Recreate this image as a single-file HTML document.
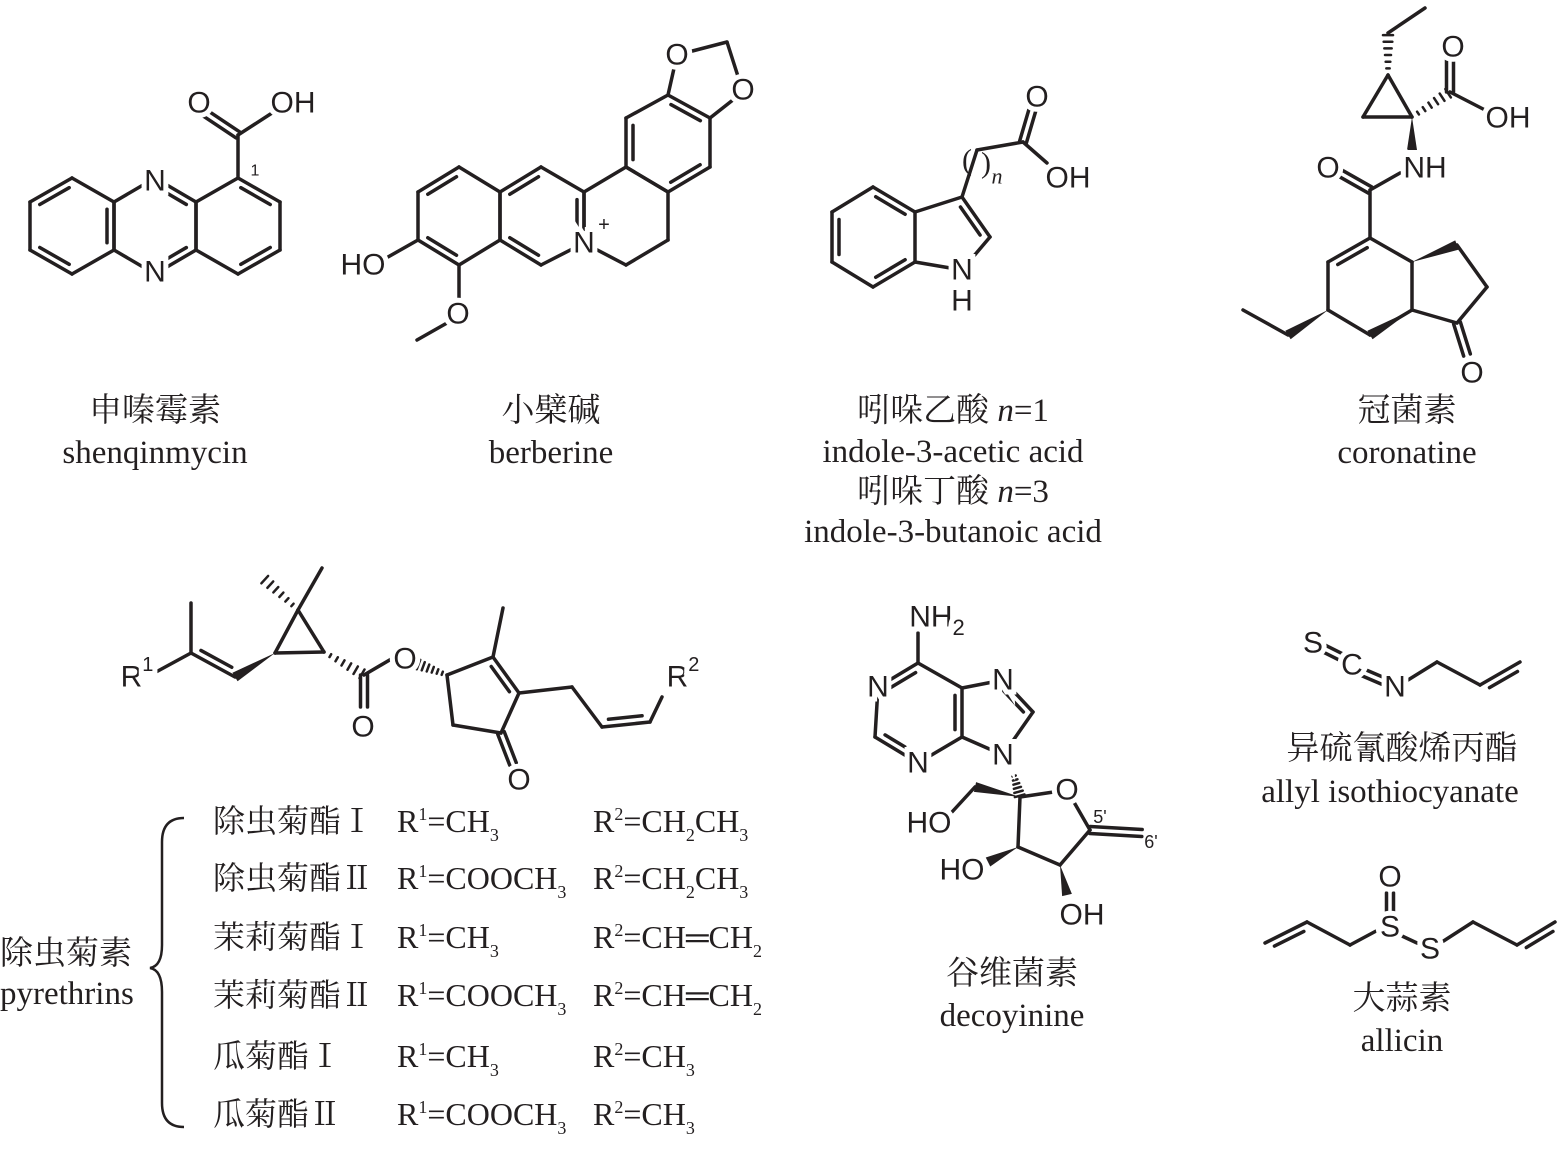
<!DOCTYPE html>
<html><head><meta charset="utf-8">
<style>
html,body{margin:0;padding:0;background:#fff;}
#w{position:relative;width:1560px;height:1149px;overflow:hidden;}
svg{position:absolute;left:0;top:0;}
.t{position:absolute;font-family:"Liberation Serif","Noto Serif CJK SC",serif;font-size:33px;color:#231f20;white-space:nowrap;line-height:1;}
.r{font-size:32px;}
.c{transform:translateX(-50%);text-align:center;}
.t sup{font-size:18px;vertical-align:12px;}
.t sub{font-size:18px;vertical-align:-9px;}
</style></head><body><div id="w">
<svg id="s" width="1560" height="1149" viewBox="0 0 1560 1149">
<g id="b" stroke="#231f20" stroke-width="3.5" stroke-linecap="round" fill="none"></g>
<g id="f" fill="#231f20" stroke="none"></g>
<g fill="#fff">
<circle cx="677" cy="55" r="12"/><circle cx="743" cy="90" r="12"/><circle cx="1067" cy="790" r="12"/>
<circle cx="405" cy="660" r="12"/><circle cx="1395" cy="687" r="12"/><circle cx="1352" cy="665" r="12"/>
<circle cx="1390" cy="927" r="11"/><circle cx="1430" cy="949" r="11"/><circle cx="584" cy="243" r="12"/>
</g>
<g font-family="Liberation Sans, sans-serif" font-size="30" fill="#231f20" text-anchor="middle" dominant-baseline="central" stroke="#fff" stroke-width="10" paint-order="stroke">
<text x="155" y="181">N</text><text x="155" y="272">N</text>
<text x="199" y="103">O</text><text x="293" y="103">OH</text>
<text x="255" y="171" font-size="16" stroke-width="4">1</text>
<text x="677" y="55">O</text><text x="743" y="90">O</text>
<text x="363" y="265">HO</text><text x="458" y="314">O</text>
<text x="584" y="243">N</text><text x="604" y="225" font-size="20" stroke-width="4">+</text>
<text x="1037" y="97">O</text><text x="1068" y="178">OH</text>
<text x="962" y="270">N</text><text x="962" y="301">H</text>
<text x="967" y="160" font-family="Liberation Serif, serif" stroke-width="0">(</text>
<text x="986" y="163" font-family="Liberation Serif, serif" stroke-width="0">)</text>
<text x="997" y="176" font-size="22" font-style="italic" font-family="Liberation Serif, serif" stroke-width="0">n</text>
<text x="1453" y="47">O</text><text x="1508" y="118">OH</text>
<text x="1425" y="168">NH</text><text x="1328" y="168">O</text>
<text x="1472" y="373">O</text>
<text x="137" y="677">R<tspan font-size="20" dy="-12">1</tspan></text>
<text x="683" y="677">R<tspan font-size="20" dy="-12">2</tspan></text>
<text x="405" y="659">O</text><text x="363" y="727">O</text>
<text x="519" y="780">O</text>
<text x="937" y="617">NH<tspan font-size="22" dy="10">2</tspan></text>
<text x="878" y="687">N</text><text x="918" y="763">N</text>
<text x="1003" y="680">N</text><text x="1003" y="755">N</text>
<text x="1067" y="790">O</text>
<text x="929" y="823">HO</text><text x="962" y="870">HO</text><text x="1082" y="915">OH</text>
<text x="1100" y="817" font-size="18" stroke-width="4">5'</text>
<text x="1151" y="842" font-size="18" stroke-width="4">6'</text>
<text x="1313" y="643">S</text><text x="1352" y="665">C</text><text x="1395" y="687">N</text>
<text x="1390" y="877">O</text><text x="1390" y="927">S</text><text x="1430" y="949">S</text>
</g>
<path d="M184,818 Q162,818 162,842 L162,945 Q162,966 150,968 Q162,970 162,992 L162,1103 Q162,1127 184,1127" stroke="#231f20" stroke-width="2.5" fill="none"/>
</svg>

<div class="t c" style="left:155px;top:395px">申嗪霉素</div>
<div class="t c" style="left:155px;top:437px">shenqinmycin</div>
<div class="t c" style="left:551px;top:395px">小檗碱</div>
<div class="t c" style="left:551px;top:437px">berberine</div>
<div class="t c" style="left:953px;top:395px">吲哚乙酸 <i>n</i>=1</div>
<div class="t c" style="left:953px;top:436px">indole-3-acetic acid</div>
<div class="t c" style="left:953px;top:476px">吲哚丁酸 <i>n</i>=3</div>
<div class="t c" style="left:953px;top:516px">indole-3-butanoic acid</div>
<div class="t c" style="left:1407px;top:395px">冠菌素</div>
<div class="t c" style="left:1407px;top:437px">coronatine</div>
<div class="t c" style="left:1012px;top:958px">谷维菌素</div>
<div class="t c" style="left:1012px;top:1000px">decoyinine</div>
<div class="t c" style="left:1402px;top:733px">异硫氰酸烯丙酯</div>
<div class="t c" style="left:1390px;top:776px">allyl isothiocyanate</div>
<div class="t c" style="left:1402px;top:983px">大蒜素</div>
<div class="t c" style="left:1402px;top:1025px">allicin</div>
<div class="t" style="left:0px;top:938px">除虫菊素</div>
<div class="t" style="left:0px;top:978px">pyrethrins</div>

<div class="t r" style="left:213px;top:805px">除虫菊酯Ⅰ</div><div class="t r" style="left:397px;top:805px">R<sup>1</sup>=CH<sub>3</sub></div><div class="t r" style="left:593px;top:805px">R<sup>2</sup>=CH<sub>2</sub>CH<sub>3</sub></div>
<div class="t r" style="left:213px;top:862px">除虫菊酯Ⅱ</div><div class="t r" style="left:397px;top:862px">R<sup>1</sup>=COOCH<sub>3</sub></div><div class="t r" style="left:593px;top:862px">R<sup>2</sup>=CH<sub>2</sub>CH<sub>3</sub></div>
<div class="t r" style="left:213px;top:921px">茉莉菊酯Ⅰ</div><div class="t r" style="left:397px;top:921px">R<sup>1</sup>=CH<sub>3</sub></div><div class="t r" style="left:593px;top:921px">R<sup>2</sup>=CH═CH<sub>2</sub></div>
<div class="t r" style="left:213px;top:979px">茉莉菊酯Ⅱ</div><div class="t r" style="left:397px;top:979px">R<sup>1</sup>=COOCH<sub>3</sub></div><div class="t r" style="left:593px;top:979px">R<sup>2</sup>=CH═CH<sub>2</sub></div>
<div class="t r" style="left:213px;top:1040px">瓜菊酯Ⅰ</div><div class="t r" style="left:397px;top:1040px">R<sup>1</sup>=CH<sub>3</sub></div><div class="t r" style="left:593px;top:1040px">R<sup>2</sup>=CH<sub>3</sub></div>
<div class="t r" style="left:213px;top:1098px">瓜菊酯Ⅱ</div><div class="t r" style="left:397px;top:1098px">R<sup>1</sup>=COOCH<sub>3</sub></div><div class="t r" style="left:593px;top:1098px">R<sup>2</sup>=CH<sub>3</sub></div>
</div>
<script>
var NS="http://www.w3.org/2000/svg",B=document.getElementById("b"),F=document.getElementById("f");
function L(a,b,c,d){var e=document.createElementNS(NS,"line");e.setAttribute("x1",a);e.setAttribute("y1",b);e.setAttribute("x2",c);e.setAttribute("y2",d);B.appendChild(e);}
function D(a,b,c,d,cx,cy){L(a,b,c,d);var mx=(a+c)/2,my=(b+d)/2,dx=c-a,dy=d-b,l=Math.hypot(dx,dy),nx=-dy/l,ny=dx/l;if((cx-mx)*nx+(cy-my)*ny<0){nx=-nx;ny=-ny;}var o=7,s=0.15;L(a+dx*s+nx*o,b+dy*s+ny*o,c-dx*s+nx*o,d-dy*s+ny*o);}
function DS(a,b,c,d){var dx=c-a,dy=d-b,l=Math.hypot(dx,dy),nx=-dy/l*3.5,ny=dx/l*3.5;L(a+nx,b+ny,c+nx,d+ny);L(a-nx,b-ny,c-nx,d-ny);}
function W(a,b,c,d){var dx=c-a,dy=d-b,l=Math.hypot(dx,dy),nx=-dy/l*5,ny=dx/l*5;var p=document.createElementNS(NS,"polygon");p.setAttribute("points",a+","+b+" "+(c+nx)+","+(d+ny)+" "+(c-nx)+","+(d-ny));F.appendChild(p);}
function H(a,b,c,d){var dx=c-a,dy=d-b,l=Math.hypot(dx,dy),n=6;for(var i=1;i<=n;i++){var t=i/n,w=1+4*t,nx=-dy/l*w,ny=dx/l*w,x=a+dx*t*0.95,y=b+dy*t*0.95;var e=document.createElementNS(NS,"line");e.setAttribute("x1",x+nx);e.setAttribute("y1",y+ny);e.setAttribute("x2",x-nx);e.setAttribute("y2",y-ny);e.setAttribute("stroke-width","2.5");B.appendChild(e);}}
function R(pts,c,dbl){for(var i=0;i<pts.length;i++){var p=pts[i],q=pts[(i+1)%pts.length];if(dbl.indexOf(i)>=0)D(p[0],p[1],q[0],q[1],c[0],c[1]);else L(p[0],p[1],q[0],q[1]);}}
// shenqinmycin
R([[72,178],[114,202],[114,250],[72,274],[30,250],[30,202]],[72,226],[1,3,5]);
R([[114,202],[155,178],[196,202],[196,250],[155,274],[114,250]],[155,226],[1,3]);
R([[196,202],[238,178],[280,202],[280,250],[238,274],[196,250]],[238,226],[1,3]);
L(238,178,238,135);DS(238,135,205,113);L(238,135,272,113);
// berberine
R([[459,167],[418,192],[418,240],[459,265],[500,240],[500,192]],[459,216],[0,2]);
R([[500,192],[541,167],[584,192],[584,243],[541,265],[500,240]],[541,216],[0,2,4]);
R([[584,192],[626,167],[668,192],[668,240],[626,265],[584,243]],[626,216],[]);
R([[626,167],[626,118],[668,95],[710,118],[710,167],[668,192]],[668,143],[0,2,4]);
L(668,95,677,55);L(677,55,727,42);L(727,42,743,92);L(743,92,710,118);
L(418,240,388,257);L(459,265,459,305);L(447,323,417,340);
// indole
R([[873,187],[915,212],[915,262],[873,287],[832,262],[832,212]],[873,237],[0,2,4]);
D(962,197,990,237,942,235);L(990,237,962,270);L(962,270,915,262);L(915,212,962,197);
L(962,197,977,150);L(977,150,1023,142);DS(1023,142,1033,108);L(1023,142,1047,163);
// coronatine
H(1388,75,1388,33);L(1388,33,1425,8);
L(1388,75,1363,117);L(1363,117,1412,117);L(1412,117,1388,75);
H(1412,117,1450,92);DS(1450,92,1450,60);L(1450,92,1485,110);
W(1412,117,1412,150);L(1370,190,1400,173);DS(1370,190,1340,173);L(1370,190,1370,238);
R([[1370,238],[1328,262],[1328,310],[1370,335],[1412,310],[1412,262]],[1370,286],[0]);
W(1412,262,1457,245);L(1457,245,1487,287);L(1487,287,1457,323);L(1457,323,1412,310);
DS(1457,323,1467,355);W(1412,310,1370,335);W(1328,310,1288,335);L(1288,335,1243,310);
// pyrethrin
L(156,672,191,653);L(191,653,191,603);D(191,653,235,677,215,645);W(275,653,235,677);
L(275,653,298,610);L(298,610,324,652);L(324,652,275,653);
L(298,610,322,568);H(298,610,263,578);H(324,652,364,675);
DS(364,675,364,707);L(364,675,393,658);H(447,675,417,664);
L(447,675,493,657);D(493,657,519,693,480,700);L(519,693,501,733);L(501,733,453,725);L(453,725,447,675);
L(493,657,503,608);DS(501,733,513,764);
L(519,693,572,687);L(572,687,602,727);D(602,727,650,722,625,700);L(650,722,662,697);
// decoyinine
L(918,633,918,663);
R([[918,663],[878,687],[875,737],[918,763],[962,737],[962,688]],[918,712],[0,2,4]);
L(962,688,1003,680);D(1003,680,1033,712,990,715);L(1033,712,1003,755);L(1003,755,962,737);
H(1013,772,1020,797);
L(1020,797,1067,790);L(1067,790,1090,830);L(1090,830,1060,865);L(1060,865,1018,847);L(1018,847,1020,797);
DS(1090,830,1142,833);W(1020,797,975,787);L(975,787,952,812);W(1018,847,988,862);W(1060,865,1067,895);
// AITC
DS(1323,648,1343,658);DS(1362,672,1383,681);L(1408,680,1437,662);L(1437,662,1480,685);D(1480,685,1520,662,1510,690);
// allicin
D(1265,943,1307,922,1290,950);L(1307,922,1350,945);L(1350,945,1378,930);DS(1390,893,1390,912);
L(1402,936,1417,943);L(1442,942,1473,922);L(1473,922,1517,945);D(1517,945,1555,922,1545,950);
</script>
</body></html>
